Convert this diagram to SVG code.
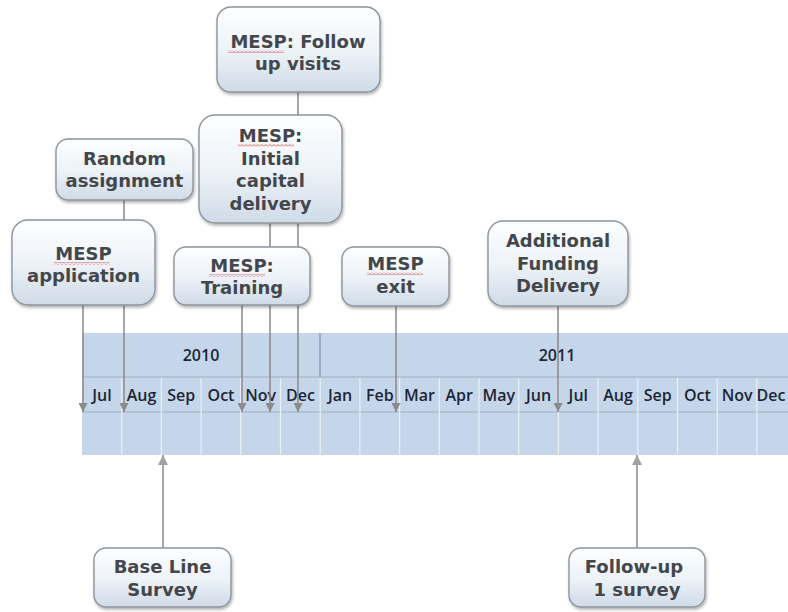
<svg xmlns="http://www.w3.org/2000/svg" width="788" height="612" viewBox="0 0 788 612">
<defs>
<linearGradient id="nodeGrad" x1="0" y1="0" x2="0" y2="1">
<stop offset="0" stop-color="#fdfeff"/>
<stop offset="0.5" stop-color="#eef3f8"/>
<stop offset="1" stop-color="#cfdbe7"/>
</linearGradient>
<filter id="shadow" x="-20%" y="-20%" width="140%" height="150%">
<feDropShadow dx="1" dy="2" stdDeviation="1.6" flood-color="#000" flood-opacity="0.3"/>
</filter>
<pattern id="squig" width="4" height="3" patternUnits="userSpaceOnUse">
<path d="M0,2.5 L2,0.5 L4,2.5" fill="none" stroke="#d23a3a" stroke-width="0.8"/>
</pattern>
<marker id="arrowDown" viewBox="0 0 10 10" refX="10" refY="5" markerWidth="9" markerHeight="9" markerUnits="userSpaceOnUse" orient="auto">
<path d="M0,0 L10,5 L0,10 Z" fill="#8a8a8a"/>
</marker>
<marker id="arrowUp" viewBox="0 0 10 10" refX="10" refY="5" markerWidth="10" markerHeight="10" markerUnits="userSpaceOnUse" orient="auto">
<path d="M0,0 L10,5 L0,10 Z" fill="#a0a0a0"/>
</marker>
</defs>
<style>
.box{fill:url(#nodeGrad);stroke:#8d949c;stroke-width:1.4;filter:url(#shadow);}
.lbl{font-family:"DejaVu Sans","Verdana",sans-serif;font-weight:bold;font-size:18px;fill:#43474c;text-anchor:middle;}
.mon{font-family:"Open Sans","Liberation Sans",sans-serif;font-weight:600;font-size:16px;fill:#1c2636;text-anchor:middle;}
.yr{font-family:"Open Sans","Liberation Sans",sans-serif;font-weight:600;font-size:16px;fill:#1c2636;text-anchor:middle;}
.col{stroke:#eaf0f7;stroke-width:1.2;}
.row{stroke:#a3afbd;stroke-width:1.2;}
.down{stroke:#8a8a8a;stroke-width:1.5;fill:none;marker-end:url(#arrowDown);}
.up{stroke:#a6a6a6;stroke-width:2;fill:none;marker-end:url(#arrowUp);}
.sq{fill:url(#squig);}
</style>
<rect width="788" height="612" fill="#ffffff"/>

<g id="timeline">
<rect x="82" y="333" width="720" height="122" fill="#c5d6ea"/>
<line class="row" x1="82" y1="377" x2="788" y2="377"/>
<line class="row" x1="82" y1="412" x2="788" y2="412"/>
<line x1="320" y1="333" x2="320" y2="377" stroke="#8d96a0" stroke-width="1.3"/>
<g class="col">
<line x1="121.7" y1="378" x2="121.7" y2="455"/>
<line x1="161.4" y1="378" x2="161.4" y2="455"/>
<line x1="201.1" y1="378" x2="201.1" y2="455"/>
<line x1="240.8" y1="378" x2="240.8" y2="455"/>
<line x1="280.5" y1="378" x2="280.5" y2="455"/>
<line x1="320.2" y1="378" x2="320.2" y2="455"/>
<line x1="359.9" y1="378" x2="359.9" y2="455"/>
<line x1="399.6" y1="378" x2="399.6" y2="455"/>
<line x1="439.3" y1="378" x2="439.3" y2="455"/>
<line x1="479" y1="378" x2="479" y2="455"/>
<line x1="518.7" y1="378" x2="518.7" y2="455"/>
<line x1="558.4" y1="378" x2="558.4" y2="455"/>
<line x1="598.1" y1="378" x2="598.1" y2="455"/>
<line x1="637.8" y1="378" x2="637.8" y2="455"/>
<line x1="677.5" y1="378" x2="677.5" y2="455"/>
<line x1="717.2" y1="378" x2="717.2" y2="455"/>
<line x1="756.9" y1="378" x2="756.9" y2="455"/>
</g>
<text class="yr" x="201" y="361">2010</text>
<text class="yr" x="557" y="361">2011</text>
<text class="mon" x="101.9" y="401">Jul</text>
<text class="mon" x="141.6" y="401">Aug</text>
<text class="mon" x="181.3" y="401">Sep</text>
<text class="mon" x="221" y="401">Oct</text>
<text class="mon" x="260.7" y="401">Nov</text>
<text class="mon" x="300.4" y="401">Dec</text>
<text class="mon" x="340.1" y="401">Jan</text>
<text class="mon" x="379.8" y="401">Feb</text>
<text class="mon" x="419.5" y="401">Mar</text>
<text class="mon" x="459.2" y="401">Apr</text>
<text class="mon" x="498.9" y="401">May</text>
<text class="mon" x="538.6" y="401">Jun</text>
<text class="mon" x="578.3" y="401">Jul</text>
<text class="mon" x="618" y="401">Aug</text>
<text class="mon" x="657.7" y="401">Sep</text>
<text class="mon" x="697.4" y="401">Oct</text>
<text class="mon" x="737.1" y="401">Nov</text>
<text class="mon" x="771" y="401">Dec</text>
</g>

<g id="connectors">
<line class="down" x1="83" y1="305" x2="83" y2="412"/>
<line class="down" x1="124" y1="200" x2="124" y2="412"/>
<line class="down" x1="242" y1="305" x2="242" y2="412"/>
<line class="down" x1="270" y1="223" x2="270" y2="412"/>
<line class="down" x1="298" y1="92" x2="298" y2="412"/>
<line class="down" x1="396" y1="306" x2="396" y2="412"/>
<line class="down" x1="558" y1="306" x2="558" y2="412"/>
<line class="up" x1="163" y1="548" x2="163" y2="455"/>
<line class="up" x1="637" y1="548" x2="637" y2="455"/>
</g>

<g id="node-follow-visits">
<rect class="box" x="217" y="7" width="163" height="85" rx="14"/>
<text class="lbl" x="298" y="48">MESP: Follow</text>
<text class="lbl" x="298" y="70">up visits</text>
<rect class="sq" x="228" y="50" width="56" height="3"/>
</g>

<g id="node-random">
<rect class="box" x="56" y="139" width="137" height="61" rx="12"/>
<text class="lbl" x="124.5" y="165">Random</text>
<text class="lbl" x="124.5" y="187">assignment</text>
</g>

<g id="node-initial-capital">
<rect class="box" x="199" y="115" width="143" height="108" rx="16"/>
<text class="lbl" x="270.5" y="142">MESP:</text>
<text class="lbl" x="270.5" y="164.5">Initial</text>
<text class="lbl" x="270.5" y="187">capital</text>
<text class="lbl" x="270.5" y="209.5">delivery</text>
<rect class="sq" x="238" y="144" width="56" height="3"/>
</g>

<g id="node-application">
<rect class="box" x="12" y="220" width="143" height="85" rx="16"/>
<text class="lbl" x="83.5" y="260">MESP</text>
<text class="lbl" x="83.5" y="282">application</text>
<rect class="sq" x="54" y="262" width="56" height="3"/>
</g>

<g id="node-training">
<rect class="box" x="174" y="247" width="136" height="58" rx="12"/>
<text class="lbl" x="242" y="272">MESP:</text>
<text class="lbl" x="242" y="294">Training</text>
<rect class="sq" x="209" y="274" width="56" height="3"/>
</g>

<g id="node-exit">
<rect class="box" x="342" y="247" width="107" height="59" rx="12"/>
<text class="lbl" x="395.5" y="270">MESP</text>
<text class="lbl" x="395.5" y="293">exit</text>
<rect class="sq" x="367" y="272" width="56" height="3"/>
</g>

<g id="node-additional-funding">
<rect class="box" x="488" y="221" width="140" height="85" rx="15"/>
<text class="lbl" x="558" y="247">Additional</text>
<text class="lbl" x="558" y="270">Funding</text>
<text class="lbl" x="558" y="292">Delivery</text>
</g>

<g id="node-baseline">
<rect class="box" x="94" y="548" width="137" height="59" rx="12"/>
<text class="lbl" x="162.5" y="573">Base Line</text>
<text class="lbl" x="162.5" y="596">Survey</text>
</g>

<g id="node-followup1">
<rect class="box" x="569" y="548" width="136" height="59" rx="12"/>
<text class="lbl" x="634" y="573">Follow-up</text>
<text class="lbl" x="637" y="596">1 survey</text>
</g>
</svg>
